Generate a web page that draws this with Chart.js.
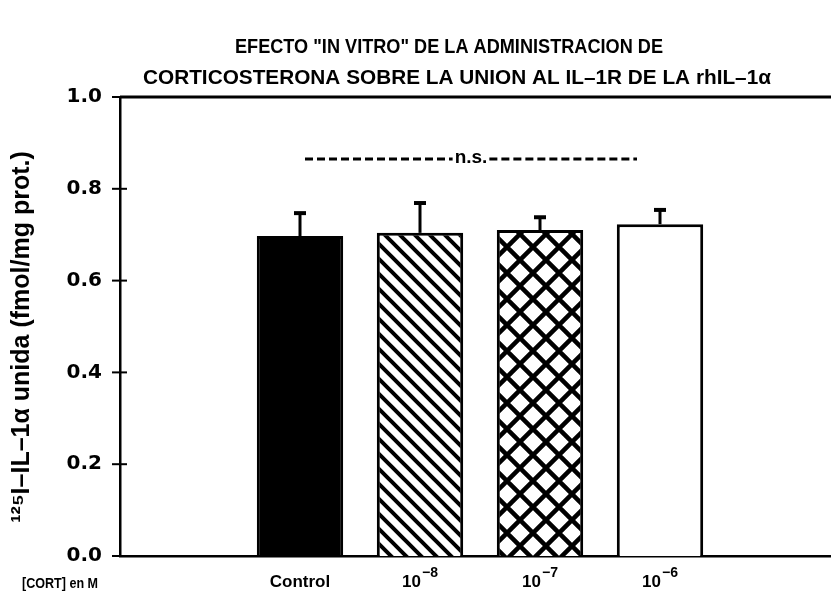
<!DOCTYPE html>
<html>
<head>
<meta charset="utf-8">
<script src="https://cdn.jsdelivr.net/npm/chart.js@4"></script>
<style>
html,body{margin:0;padding:0;background:#fff;overflow:hidden;}
#wrap{width:831px;height:611px;overflow:hidden;}
</style>
</head>
<body>
<div id="wrap"><canvas id="c" width="840" height="611"></canvas></div>
<script>
// ---- data ----
const categories = ['', 'Control', '10', '10', '10', ''];
const exponents = [null, null, '\u22128', '\u22127', '\u22126', null];
const values = [null, 0.697, 0.704, 0.710, 0.723, null];
const errors = [null, 0.050, 0.065, 0.028, 0.031, null];
const yTicks = [0, 0.2, 0.4, 0.6, 0.8, 1.0];
const titleLines = ['EFECTO "IN VITRO" DE LA ADMINISTRACION DE',
                    'CORTICOSTERONA SOBRE LA UNION AL IL\u20131R DE LA rhIL\u20131\u03B1'];
const yTitle = '\u00B9\u00B2\u2075I\u2013IL\u20131\u03B1 unida (fmol/mg prot.)';
const xTitle = '[CORT] en M';
const sigLabel = 'n.s.';
const sigLevel = 0.867;

function makePattern(kind){
  const s = kind === 'diag' ? 15 : 26;
  const p = document.createElement('canvas');
  p.width = s; p.height = s;
  const g = p.getContext('2d');
  g.fillStyle = '#fff'; g.fillRect(0,0,s,s);
  g.strokeStyle = '#000'; g.lineWidth = kind === 'diag' ? 4 : 4.5; g.lineCap='square';
  g.beginPath();
  g.moveTo(-2,-2); g.lineTo(s+2,s+2);
  g.moveTo(-2,s-2); g.lineTo(2,s+2);
  g.moveTo(s-2,-2); g.lineTo(s+2,2);
  if (kind === 'cross'){
    g.moveTo(s+2,-2); g.lineTo(-2,s+2);
    g.moveTo(-2,2); g.lineTo(2,-2);
    g.moveTo(s-2,s+2); g.lineTo(s+2,s-2);
  }
  g.stroke();
  return g.createPattern(p,'repeat');
}
const ctx0 = document.getElementById('c').getContext('2d');
const fills = ['#fff', '#000', makePattern('diag'), makePattern('cross'), '#fff', '#fff'];
const FONT = '"Liberation Sans", Arial, sans-serif';

const decor = {
  id: 'decor',
  afterDatasetsDraw(chart){
    const {ctx, chartArea:a, scales:{x,y}} = chart;
    const meta = chart.getDatasetMeta(0);
    ctx.save();
    // error bars
    ctx.strokeStyle = '#000';
    meta.data.forEach((bar,i)=>{
      if (values[i] == null) return;
      const yt = y.getPixelForValue(values[i] + errors[i]);
      const yb = y.getPixelForValue(values[i]);
      ctx.lineWidth = 3;
      ctx.beginPath(); ctx.moveTo(bar.x, yb); ctx.lineTo(bar.x, yt); ctx.stroke();
      ctx.lineWidth = 4;
      ctx.beginPath(); ctx.moveTo(bar.x-6, yt); ctx.lineTo(bar.x+6, yt); ctx.stroke();
    });
    // top frame line
    ctx.lineWidth = 3;
    ctx.beginPath(); ctx.moveTo(a.left, a.top); ctx.lineTo(a.right, a.top); ctx.stroke();
    // y ticks crossing the axis
    ctx.lineWidth = 2;
    yTicks.forEach(v=>{
      const py = y.getPixelForValue(v);
      ctx.beginPath(); ctx.moveTo(a.left-8, py); ctx.lineTo(a.left+7, py); ctx.stroke();
    });
    // n.s. line
    const sy = y.getPixelForValue(sigLevel);
    const x1 = x.getPixelForValue(1) + 5, x2 = x.getPixelForValue(4) - 23;
    const xm = (x1 + x2) / 2;
    ctx.font = 'bold 19px ' + FONT;
    ctx.fillStyle = '#000';
    ctx.textAlign = 'center'; ctx.textBaseline = 'middle';
    ctx.fillText(sigLabel, xm, sy);
    const tw = ctx.measureText(sigLabel).width;
    ctx.lineWidth = 3;
    ctx.setLineDash([8,4]);
    ctx.beginPath();
    ctx.moveTo(x1, sy+1); ctx.lineTo(xm - tw/2 - 2, sy+1);
    ctx.moveTo(xm + tw/2 + 2, sy+1); ctx.lineTo(x2, sy+1);
    ctx.stroke();
    ctx.setLineDash([]);
    // exponents for x tick labels
    ctx.font = 'bold 14px ' + FONT;
    ctx.textAlign = 'left'; ctx.textBaseline = 'middle';
    exponents.forEach((e,i)=>{
      if (!e) return;
      const px = x.getPixelForValue(i);
      ctx.fillText(e, px + 2, 573);
    });
    // title
    ctx.textAlign = 'center'; ctx.textBaseline = 'middle';
    ctx.font = 'bold 21px ' + FONT;
    ctx.fillText(titleLines[0], 449, 47, 428);
    ctx.fillText(titleLines[1], 457, 78, 628);
    // y title
    ctx.save();
    ctx.translate(22, 337);
    ctx.rotate(-Math.PI/2);
    ctx.font = 'bold 25px ' + FONT;
    ctx.fillText(yTitle, 0, 0, 405);
    ctx.restore();
    // x title
    ctx.font = 'bold 15px ' + FONT;
    ctx.textAlign = 'left';
    ctx.fillText(xTitle, 22, 584, 76);
    ctx.restore();
  }
};

new Chart(ctx0, {
  type: 'bar',
  data: {
    labels: categories,
    datasets: [{
      data: values,
      backgroundColor: fills,
      borderColor: '#000',
      borderWidth: 3,
      borderSkipped: 'bottom',
      categoryPercentage: 1.0,
      barPercentage: 0.72
    }]
  },
  options: {
    responsive: false,
    animation: false,
    layout: { padding: { top: 97, right: 0, left: 1, bottom: 0 } },
    plugins: { legend: { display: false }, title: { display: false }, tooltip: { enabled: false } },
    scales: {
      x: {
        offset: true,
        grid: { display: false, drawTicks: false },
        border: { display: true, color: '#000', width: 2.5 },
        ticks: {
          color: '#000',
          padding: 16,
          maxRotation: 0,
          autoSkip: false,
          font: { family: FONT, size: 17, weight: 'bold' },
          callback: (v, i) => exponents[i] ? categories[i] + '\u2002\u2002' : categories[i]
        },
        afterFit: s => { s.height = 55; }
      },
      y: {
        min: 0, max: 1,
        grid: { display: false, drawTicks: false },
        border: { display: true, color: '#000', width: 2.5 },
        ticks: {
          stepSize: 0.2,
          color: '#000',
          padding: 18,
          font: { family: '"DejaVu Sans", sans-serif', size: 20, weight: 'bold' },
          callback: v => Number(v).toFixed(1)
        },
        afterFit: s => { s.width = 119; }
      }
    }
  },
  plugins: [decor]
});
</script>
</body>
</html>
